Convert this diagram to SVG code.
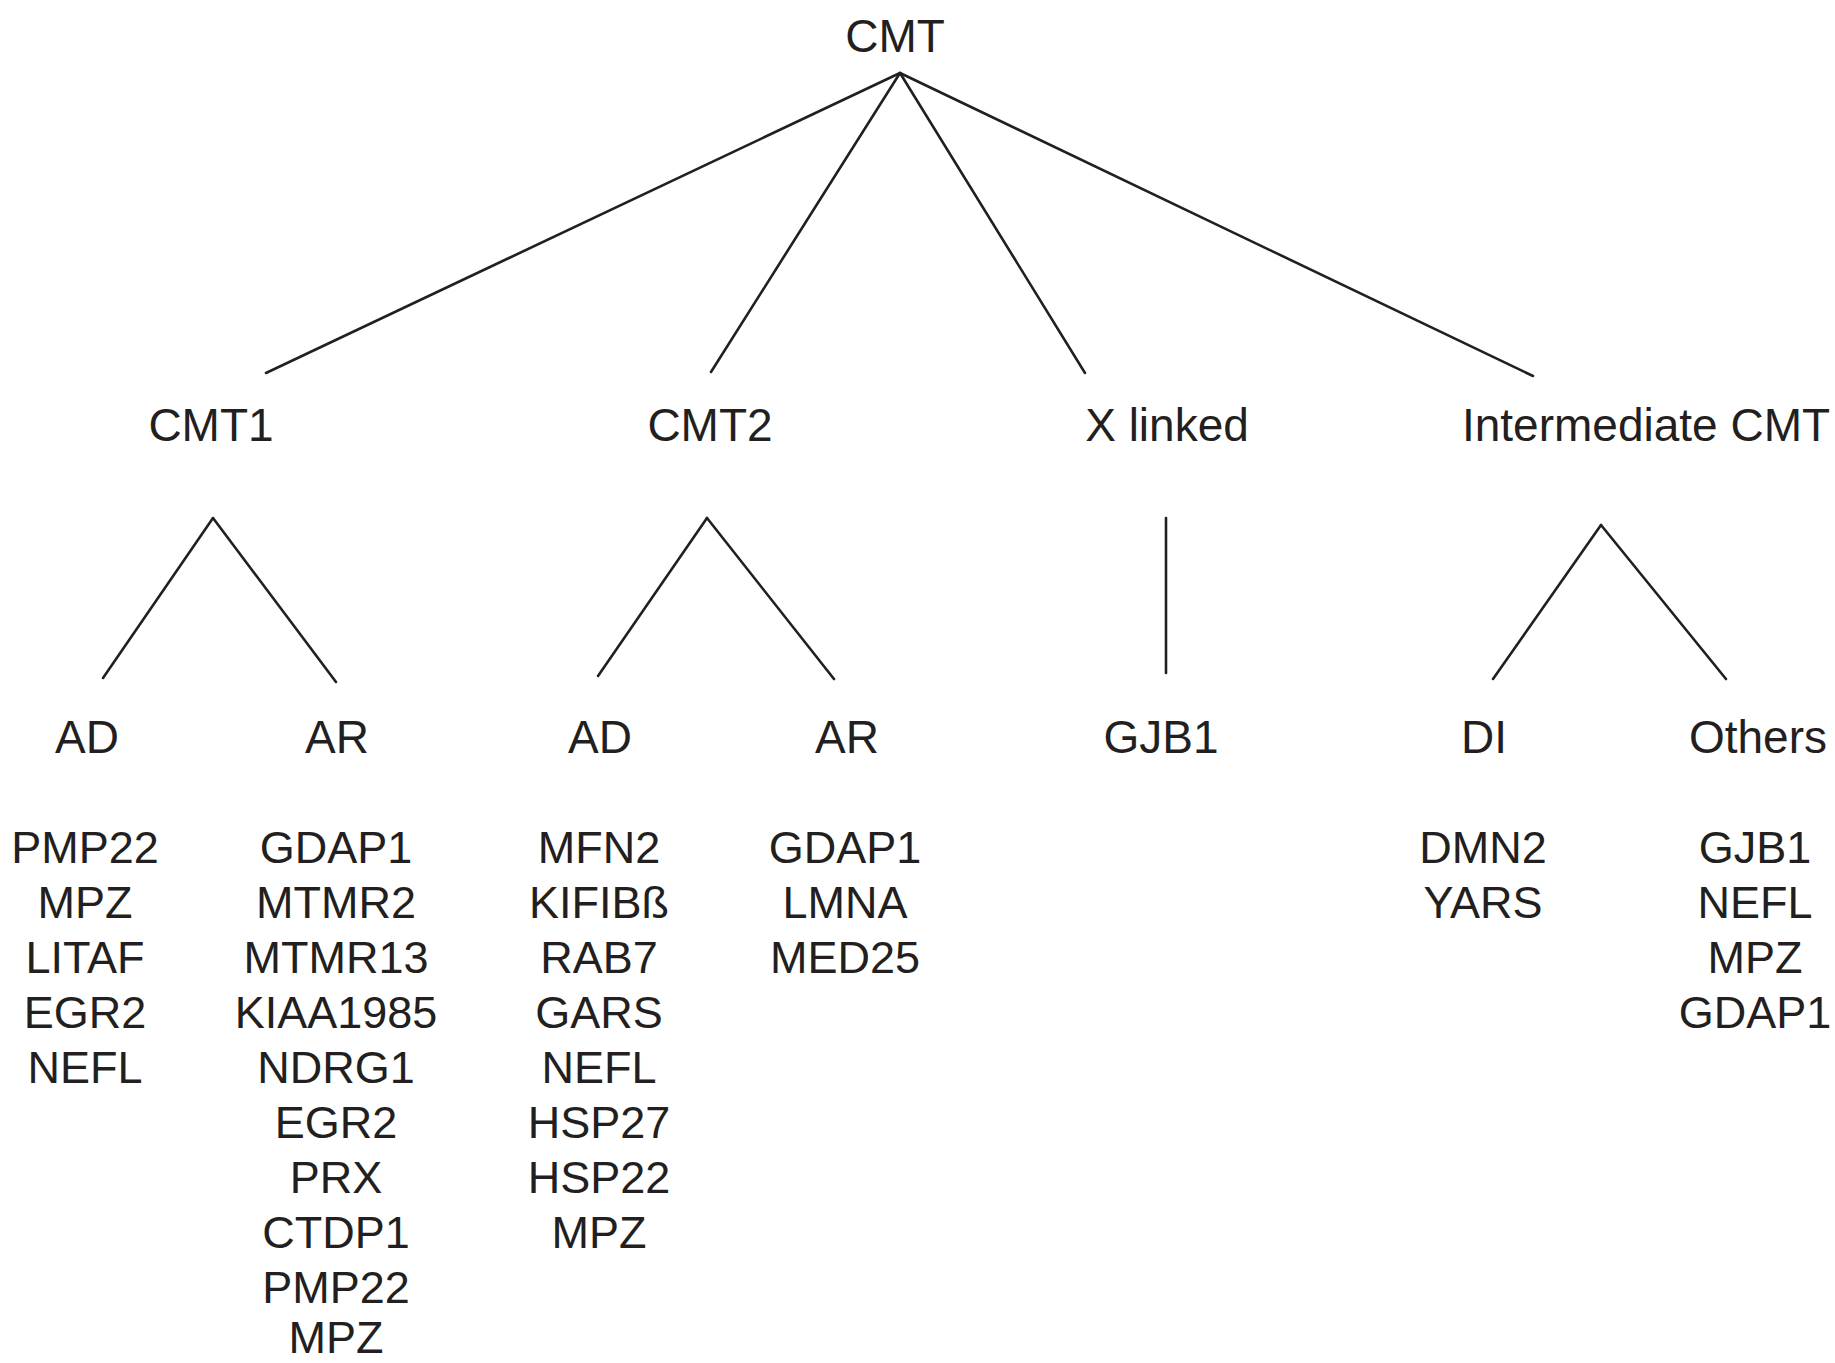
<svg xmlns="http://www.w3.org/2000/svg" width="1835" height="1363" viewBox="0 0 1835 1363">
<style>
text{font-family:"Liberation Sans",Arial,sans-serif;fill:#231f20;text-anchor:middle}
.h{font-size:46px}
.g{font-size:45px}
#connectors line{stroke:#231f20;stroke-width:2.6;stroke-linecap:round}
</style>
<rect width="1835" height="1363" fill="#fff"/>
<g id="connectors">
<line x1="900" y1="73" x2="266" y2="373"/>
<line x1="900" y1="73" x2="711" y2="372"/>
<line x1="900" y1="73" x2="1085" y2="373"/>
<line x1="900" y1="73" x2="1533" y2="376"/>
<line x1="213" y1="518" x2="103" y2="678"/>
<line x1="213" y1="518" x2="336" y2="682"/>
<line x1="707" y1="518" x2="598" y2="676"/>
<line x1="707" y1="518" x2="834" y2="679"/>
<line x1="1166" y1="518" x2="1166" y2="673"/>
<line x1="1601" y1="525" x2="1493" y2="679"/>
<line x1="1601" y1="525" x2="1726" y2="679"/>
</g>
<g id="n-cmt"><text class="h" x="895" y="52">CMT</text></g>
<g id="n-cmt1"><text class="h" x="211" y="441">CMT1</text></g>
<g id="n-cmt2"><text class="h" x="710" y="441">CMT2</text></g>
<g id="n-xlinked"><text class="h" x="1167" y="441">X linked</text></g>
<g id="n-intermediate"><text class="h" x="1646" y="441">Intermediate CMT</text></g>
<g id="n-cmt1-ad"><text class="h" x="87" y="753">AD</text>
<text class="g" x="85" y="863">PMP22</text><text class="g" x="85" y="918">MPZ</text><text class="g" x="85" y="973">LITAF</text><text class="g" x="85" y="1028">EGR2</text><text class="g" x="85" y="1083">NEFL</text></g>
<g id="n-cmt1-ar"><text class="h" x="337" y="753">AR</text>
<text class="g" x="336" y="863">GDAP1</text><text class="g" x="336" y="918">MTMR2</text><text class="g" x="336" y="973">MTMR13</text><text class="g" x="336" y="1028">KIAA1985</text><text class="g" x="336" y="1083">NDRG1</text><text class="g" x="336" y="1138">EGR2</text><text class="g" x="336" y="1193">PRX</text><text class="g" x="336" y="1248">CTDP1</text><text class="g" x="336" y="1303">PMP22</text><text class="g" x="336" y="1353">MPZ</text></g>
<g id="n-cmt2-ad"><text class="h" x="600" y="753">AD</text>
<text class="g" x="599" y="863">MFN2</text><text class="g" x="599" y="918">KIFIBß</text><text class="g" x="599" y="973">RAB7</text><text class="g" x="599" y="1028">GARS</text><text class="g" x="599" y="1083">NEFL</text><text class="g" x="599" y="1138">HSP27</text><text class="g" x="599" y="1193">HSP22</text><text class="g" x="599" y="1248">MPZ</text></g>
<g id="n-cmt2-ar"><text class="h" x="847" y="753">AR</text>
<text class="g" x="845" y="863">GDAP1</text><text class="g" x="845" y="918">LMNA</text><text class="g" x="845" y="973">MED25</text></g>
<g id="n-gjb1"><text class="h" x="1161" y="753">GJB1</text></g>
<g id="n-di"><text class="h" x="1484" y="753">DI</text>
<text class="g" x="1483" y="863">DMN2</text><text class="g" x="1483" y="918">YARS</text></g>
<g id="n-others"><text class="h" x="1758" y="753">Others</text>
<text class="g" x="1755" y="863">GJB1</text><text class="g" x="1755" y="918">NEFL</text><text class="g" x="1755" y="973">MPZ</text><text class="g" x="1755" y="1028">GDAP1</text></g>
</svg>
